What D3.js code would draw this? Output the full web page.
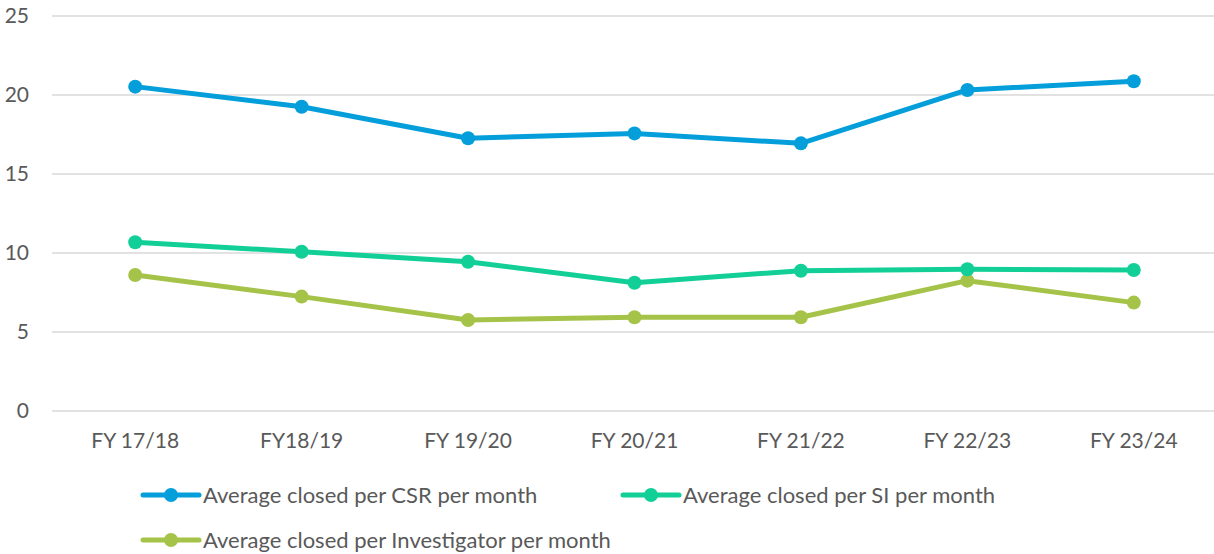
<!DOCTYPE html>
<html>
<head>
<meta charset="utf-8">
<script src="https://cdn.jsdelivr.net/npm/d3@7/dist/d3.min.js"></script>
<style>
  body { margin: 0; background: #fff; }
  svg text { font-family: Lato, "Open Sans", sans-serif; fill: #595959; }
</style>
</head>
<body>
<svg id="chart" width="1214" height="554"></svg>
<script>
// chart data
const years = ['FY 17/18', 'FY18/19', 'FY 19/20', 'FY 20/21', 'FY 21/22', 'FY 22/23', 'FY 23/24'];
const csrValues = [20.53, 19.26, 17.26, 17.57, 16.94, 20.32, 20.87];
const siValues = [10.68, 10.08, 9.45, 8.12, 8.88, 8.97, 8.92];
const invValues = [8.61, 7.24, 5.76, 5.93, 5.93, 8.25, 6.86];
const yTicks = [0, 5, 10, 15, 20, 25];
const seriesNames = [
  'Average closed per CSR per month',
  'Average closed per SI per month',
  'Average closed per Investigator per month'
];
const seriesColors = ['#049fda', '#12cf98', '#a6c349'];

let plotLeft = 52;
let plotRight = 1217;
let plotTop = 16;
let plotBottom = 411;
let fontSize = 21;
let legendFontSize = 22;

const svg = d3.select('#chart');

let x = d3.scaleBand()
  .domain(years)
  .range([plotLeft, plotRight]);

let y = d3.scaleLinear()
  .domain([0, 25])
  .range([plotBottom, plotTop]);

// gridlines
svg.append('g')
  .selectAll('line')
  .data(yTicks)
  .enter()
  .append('line')
  .attr('x1', plotLeft)
  .attr('x2', plotRight)
  .attr('y1', d => y(d))
  .attr('y2', d => y(d))
  .style('stroke', '#d9d9d9')
  .style('stroke-width', 1.5);

// y axis labels
let yAxis = d3.axisLeft(y)
  .tickValues(yTicks)
  .tickSize(0)
  .tickPadding(0);
let yG = svg.append('g')
  .attr('transform', 'translate(29,0)')
  .call(yAxis);
yG.select('.domain').remove();
yG.selectAll('text')
  .style('font-size', fontSize + 'px')
  .style('font-family', 'Lato, sans-serif')
  .attr('fill', '#595959');

// x axis labels
let xAxis = d3.axisBottom(x)
  .tickSize(0)
  .tickPadding(0);
let xG = svg.append('g')
  .attr('transform', 'translate(0,' + (plotBottom + 22) + ')')
  .call(xAxis);
xG.select('.domain').remove();
xG.selectAll('text')
  .style('font-size', fontSize + 'px')
  .style('font-family', 'Lato, sans-serif')
  .attr('fill', '#595959');

// series
const allSeries = [csrValues, siValues, invValues];
let line = d3.line()
  .x((d, i) => x(years[i]) + x.bandwidth() / 2)
  .y(d => y(d));

// draw in reverse so CSR is on top like the original
for (let s = allSeries.length - 1; s >= 0; s--) {
  let g = svg.append('g');
  g.append('path')
    .attr('d', line(allSeries[s]))
    .style('fill', 'none')
    .style('stroke', seriesColors[s])
    .style('stroke-width', 5)
    .style('stroke-linejoin', 'round');
  g.selectAll('circle')
    .data(allSeries[s])
    .enter()
    .append('circle')
    .attr('cx', (d, i) => x(years[i]) + x.bandwidth() / 2)
    .attr('cy', d => y(d))
    .attr('r', 7)
    .attr('fill', seriesColors[s]);
}

// legend
const legendPos = [[143, 495], [623, 495], [143, 540]];
for (let s = 0; s < seriesNames.length; s++) {
  let lg = svg.append('g')
    .attr('transform', 'translate(' + legendPos[s][0] + ',' + legendPos[s][1] + ')');
  lg.append('line')
    .attr('x1', 0)
    .attr('x2', 56)
    .attr('y1', 0)
    .attr('y2', 0)
    .style('stroke', seriesColors[s])
    .style('stroke-width', 5)
    .style('stroke-linecap', 'round');
  lg.append('circle')
    .attr('cx', 28)
    .attr('cy', 0)
    .attr('r', 7)
    .attr('fill', seriesColors[s]);
  lg.append('text')
    .attr('x', 60)
    .attr('y', 0)
    .attr('dy', '0.35em')
    .style('font-size', legendFontSize + 'px')
    .text(seriesNames[s]);
}
</script>
</body>
</html>
